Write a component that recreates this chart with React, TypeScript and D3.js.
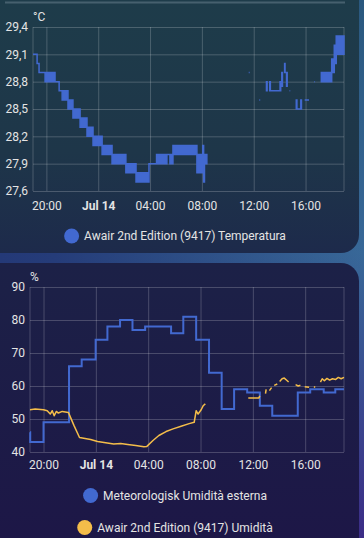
import React, { useEffect, useRef } from 'react';
import * as d3 from 'd3';

const parseTime = d3.timeParse('%Y-%m-%d %H:%M');
const t = (s: string) => parseTime(`2024-07-${s}`) as Date;

const timeDomain = ['13 18:58', '14 18:58'];
const timeTicks = ['13 20:00', '14 00:00', '14 04:00', '14 08:00', '14 12:00', '14 16:00'];
const timeTickLabels = ['20:00', 'Jul 14', '04:00', '08:00', '12:00', '16:00'];

const tempTicks = [27.6, 27.9, 28.2, 28.5, 28.8, 29.1, 29.4];
const humTicks = [40, 50, 60, 70, 80, 90];

// Awair temperature: [time, low, high] of the readings in each step (null = no data)
type Band = [string, number, number] | null;
const awairTemp: Band[] = [
  ['13 18:58', 29.1, 29.1],
  ['13 19:17', 29.0, 29.0],
  ['13 19:26', 28.9, 28.9],
  ['13 19:54', 28.8, 28.9],
  ['13 20:40', 28.8, 28.8],
  ['13 20:59', 28.7, 28.7],
  ['13 21:13', 28.6, 28.7],
  ['13 21:40', 28.5, 28.6],
  ['13 22:03', 28.4, 28.5],
  ['13 22:36', 28.3, 28.4],
  ['13 23:08', 28.2, 28.3],
  ['13 23:36', 28.1, 28.2],
  ['14 00:18', 28.0, 28.1],
  ['14 01:04', 27.9, 28.0],
  ['14 02:08', 27.8, 27.9],
  ['14 02:55', 27.7, 27.8],
  ['14 03:55', 27.9, 27.9],
  ['14 04:30', 27.9, 28.0],
  ['14 05:18', 28.0, 28.0],
  ['14 05:32', 27.9, 28.0],
  ['14 05:46', 28.0, 28.1],
  ['14 07:37', 27.8, 28.0],
  ['14 08:04', 27.8, 28.1],
  ['14 08:08', 27.7, 28.0],
  ['14 08:12', 27.9, 28.0],
  ['14 08:23', 28.0, 28.0],
  null,
  ['14 11:37', 28.9, 28.9], ['14 11:41', 28.9, 28.9],
  null,
  ['14 12:26', 28.6, 28.6], ['14 12:30', 28.6, 28.6],
  null,
  ['14 12:59', 28.7, 28.8], ['14 13:02', 28.7, 28.8],
  null,
  ['14 13:14', 28.7, 28.8], ['14 13:17', 28.7, 28.7], ['14 14:02', 28.7, 28.8], ['14 14:05', 28.8, 28.8],
  null,
  ['14 14:10', 28.75, 28.9], ['14 14:13', 28.75, 28.9],
  null,
  ['14 14:23', 28.9, 29.0], ['14 14:25', 28.9, 29.0],
  null,
  ['14 14:32', 28.75, 28.9], ['14 14:35', 28.75, 28.9],
  null,
  ['14 14:46', 28.7, 28.7], ['14 14:49', 28.7, 28.7],
  null,
  ['14 15:17', 28.5, 28.6], ['14 15:20', 28.5, 28.5], ['14 15:38', 28.5, 28.6], ['14 15:41', 28.6, 28.6],
  null,
  ['14 15:56', 28.6, 28.6], ['14 16:16', 28.6, 28.6],
  null,
  ['14 16:41', 28.8, 28.8], ['14 16:44', 28.8, 28.8],
  null,
  ['14 17:13', 28.8, 28.9],
  ['14 18:01', 28.9, 29.05],
  ['14 18:13', 29.0, 29.2],
  ['14 18:22', 29.1, 29.3],
  ['14 18:58', 29.3, 29.3],
];

// Meteorologisk outdoor humidity (hourly, step)
type Pt = [string, number] | null;
const meteoHumidity: Pt[] = [
  ['13 18:58', 46], ['13 18:59', 43], ['13 20:00', 49], ['13 21:57', 66], ['13 22:55', 68],
  ['13 23:59', 74], ['14 00:53', 78], ['14 01:51', 80], ['14 02:48', 77], ['14 03:46', 78],
  ['14 05:45', 76], ['14 06:41', 81], ['14 07:40', 74], ['14 08:39', 64], ['14 09:37', 53],
  ['14 10:34', 59], ['14 11:34', 58], ['14 12:32', 54], ['14 13:29', 51], ['14 15:26', 58],
  ['14 16:23', 59], ['14 17:25', 58], ['14 18:18', 59], ['14 18:58', 59],
];

// Awair humidity
const awairHumidity: Pt[] = [
  ['13 18:58', 52.8], ['13 19:22', 53], ['13 20:00', 52.8], ['13 20:17', 52.5], ['13 20:31', 51.5],
  ['13 20:40', 52.5], ['13 20:49', 51], ['13 20:59', 52.3], ['13 21:08', 51.8], ['13 21:26', 52.3],
  ['13 21:54', 52], ['13 22:20', 48], ['13 22:45', 44.4], ['13 23:36', 43.8], ['14 00:08', 43.2],
  ['14 00:45', 42.8], ['14 01:22', 42.4], ['14 01:54', 42.6], ['14 02:26', 42.3], ['14 03:03', 42],
  ['14 03:40', 41.6], ['14 03:54', 41.7], ['14 04:22', 43.5], ['14 04:49', 45], ['14 05:22', 46.2],
  ['14 05:54', 47], ['14 06:31', 47.8], ['14 07:08', 48.6], ['14 07:31', 49], ['14 07:40', 52.5],
  ['14 07:49', 51.5], ['14 08:03', 52.8], ['14 08:12', 54], ['14 08:22', 54.6],
  null,
  ['14 11:39', 56.4], ['14 12:28', 56.4], ['14 12:32', 57],
  null,
  ['14 12:58', 57.7], ['14 13:01', 59],
  null,
  ['14 13:16', 58.6], ['14 13:26', 59.5],
  null,
  ['14 13:38', 60.2], ['14 13:52', 60.6],
  null,
  ['14 14:03', 61.4], ['14 14:14', 62.2], ['14 14:24', 62.4], ['14 14:34', 61.8], ['14 14:44', 61.2],
  null,
  ['14 15:16', 60.4], ['14 15:28', 60], ['14 15:38', 60.2],
  null,
  ['14 15:58', 59.8], ['14 16:18', 59.6],
  null,
  ['14 16:40', 59.8], ['14 16:46', 59.6],
  null,
  ['14 17:10', 61.2], ['14 17:18', 62.2], ['14 17:28', 61.6], ['14 17:40', 62.3], ['14 17:52', 61.8],
  ['14 18:05', 62.2], ['14 18:20', 62], ['14 18:32', 62.6], ['14 18:45', 62.2], ['14 18:58', 62.6],
];

const BLUE = '#4269d0';
const YELLOW = '#f4bd4a';
const TEXT = '#e4e4e4';
const GRID = 'rgba(255,255,255,0.2)';

type Box = { left: number; right: number; top: number; bottom: number };

function drawFrame(
  g: d3.Selection<SVGGElement, unknown, null, undefined>,
  box: Box,
  x: d3.ScaleTime<number, number>,
  y: d3.ScaleLinear<number, number>,
  yTicks: number[],
  yFormat: (v: number) => string,
  unit: string,
  unitY: number,
  xPad: number
) {
  const xAxis = d3.axisBottom(x)
    .tickValues(timeTicks.map(t))
    .tickFormat((_, i) => timeTickLabels[i])
    .tickSize(-(box.bottom - box.top))
    .tickPadding(xPad);
  const xg = g.append('g').attr('transform', `translate(0,${box.bottom})`).call(xAxis);
  xg.select('.domain').remove();
  xg.selectAll('.tick line').attr('stroke', GRID);
  xg.selectAll('.tick text')
    .attr('fill', TEXT)
    .style('font-size', '12px')
    .style('font-family', 'Roboto')
    .style('font-weight', (_, i) => (i === 1 ? '700' : '400'));

  const yAxis = d3.axisLeft(y)
    .tickValues(yTicks)
    .tickFormat(d => yFormat(d as number))
    .tickSize(-(box.right - box.left))
    .tickPadding(5);
  const yg = g.append('g').attr('transform', `translate(${box.left},0)`).call(yAxis);
  yg.select('.domain').remove();
  yg.selectAll('.tick line').attr('stroke', GRID);
  yg.selectAll('.tick text')
    .attr('fill', TEXT)
    .style('font-size', '12px')
    .style('font-family', 'Roboto');

  // left / right borders
  [box.left, box.right].forEach(px => {
    g.append('line')
      .attr('x1', px).attr('x2', px)
      .attr('y1', box.top).attr('y2', box.bottom)
      .attr('stroke', GRID);
  });

  g.append('text')
    .attr('x', box.left)
    .attr('y', unitY)
    .attr('dominant-baseline', 'central')
    .attr('fill', TEXT)
    .style('font-size', '12px')
    .style('font-family', 'Roboto')
    .text(unit);
}

function drawLegend(
  g: d3.Selection<SVGGElement, unknown, null, undefined>,
  label: string,
  color: string,
  cy: number
) {
  const item = g.append('g');
  item.append('circle').attr('r', 7.5).attr('fill', color);
  const txt = item.append('text')
    .attr('x', 12.5)
    .attr('dominant-baseline', 'central')
    .attr('fill', TEXT)
    .style('font-size', '12px')
    .style('font-family', 'Roboto')
    .text(label);
  const len = (txt.node() as SVGTextElement).getComputedTextLength();
  item.attr('transform', `translate(${175 - (5 + len) / 2},${cy})`);
}

export default function App() {
  const svgRef = useRef<SVGSVGElement>(null);

  useEffect(() => {
    if (!svgRef.current) return;
    const svg = d3.select(svgRef.current);
    svg.selectAll('*').remove();

    const defs = svg.append('defs');
    const grad = (id: string, x1: number, y1: number, x2: number, y2: number, stops: [number, string, number?][]) => {
      const lg = defs.append('linearGradient')
        .attr('id', id)
        .attr('gradientUnits', 'userSpaceOnUse')
        .attr('x1', x1).attr('y1', y1).attr('x2', x2).attr('y2', y2);
      stops.forEach(([o, c, op]) => {
        lg.append('stop').attr('offset', o).attr('stop-color', c).attr('stop-opacity', op ?? 1);
      });
    };
    grad('pageBg', 0, 0, 0, 538, [[0, '#2a587e'], [0.47, '#386898'], [1, '#3b2c86']]);
    grad('stripBg', 0, 0, 364, 0, [[0, '#243977'], [0.15, '#253c79'], [1, '#243977', 0]]);
    grad('topCard', 0, 0, 0, 253, [[0, '#1e3c4a'], [0.6, '#1e3649'], [1, '#1d2a4b']]);
    grad('bottomCard', 0, 263, 0, 538, [[0, '#1c2147'], [1, '#1d1747']]);

    svg.append('rect').attr('width', 364).attr('height', 538).attr('fill', 'url(#pageBg)');
    svg.append('rect').attr('y', 248).attr('width', 364).attr('height', 20).attr('fill', 'url(#stripBg)');
    svg.append('rect')
      .attr('x', -30).attr('y', -30).attr('width', 389).attr('height', 283).attr('rx', 18)
      .attr('fill', 'url(#topCard)');
    svg.append('rect')
      .attr('x', -30).attr('y', 263).attr('width', 389).attr('height', 300).attr('rx', 18)
      .attr('fill', 'url(#bottomCard)');
    svg.append('line')
      .attr('x1', 5).attr('x2', 345).attr('y1', 2.5).attr('y2', 2.5)
      .attr('stroke', '#46606e').attr('stroke-width', 2);

    const domain = timeDomain.map(t) as [Date, Date];
    const fmtComma = (v: number) => d3.format('.1f')(v).replace('.', ',');

    // ---- Temperature chart
    const tb: Box = { left: 33, right: 344, top: 27, bottom: 191 };
    const xT = d3.scaleTime().domain(domain).range([tb.left, tb.right]);
    const yT = d3.scaleLinear().domain([27.6, 29.4]).range([tb.bottom, tb.top]);
    const gT = svg.append('g');
    drawFrame(gT, tb, xT, yT, tempTicks, fmtComma, '°C', 17, 10);

    const tempArea = d3.area<Band>()
      .defined(d => d !== null)
      .curve(d3.curveStepAfter)
      .x(d => xT(t(d![0])))
      .y0(d => yT(d![1]))
      .y1(d => yT(d![2]));
    gT.append('path')
      .datum(awairTemp)
      .attr('d', tempArea)
      .attr('fill', BLUE)
      .attr('stroke', BLUE)
      .attr('stroke-width', 1.5)
      .attr('stroke-linejoin', 'miter');

    drawLegend(gT, 'Awair 2nd Edition (9417) Temperatura', BLUE, 236);

    // ---- Humidity chart
    const hb: Box = { left: 30, right: 344, top: 287, bottom: 452 };
    const xH = d3.scaleTime().domain(domain).range([hb.left, hb.right]);
    const yH = d3.scaleLinear().domain([40, 90]).range([hb.bottom, hb.top]);
    const gH = svg.append('g');
    drawFrame(gH, hb, xH, yH, humTicks, v => String(v), '%', 277, 8);

    const stepLine = d3.line<Pt>()
      .defined(d => d !== null)
      .curve(d3.curveStepAfter)
      .x(d => xH(t(d![0])))
      .y(d => yH(d![1]));
    gH.append('path')
      .datum(meteoHumidity)
      .attr('d', stepLine)
      .attr('fill', 'none')
      .attr('stroke', BLUE)
      .attr('stroke-width', 2);

    const smoothLine = d3.line<Pt>()
      .defined(d => d !== null)
      .x(d => xH(t(d![0])))
      .y(d => yH(d![1]));
    gH.append('path')
      .datum(awairHumidity)
      .attr('d', smoothLine)
      .attr('fill', 'none')
      .attr('stroke', YELLOW)
      .attr('stroke-width', 1.5)
      .attr('stroke-linejoin', 'round');

    drawLegend(gH, 'Meteorologisk Umidità esterna', BLUE, 495.5);
    drawLegend(gH, 'Awair 2nd Edition (9417) Umidità', YELLOW, 527.5);
  }, []);

  return (
    <svg
      ref={svgRef}
      width={364}
      height={538}
      style={{ position: 'absolute', left: 0, top: 0, fontFamily: 'Roboto' }}
    />
  );
}
